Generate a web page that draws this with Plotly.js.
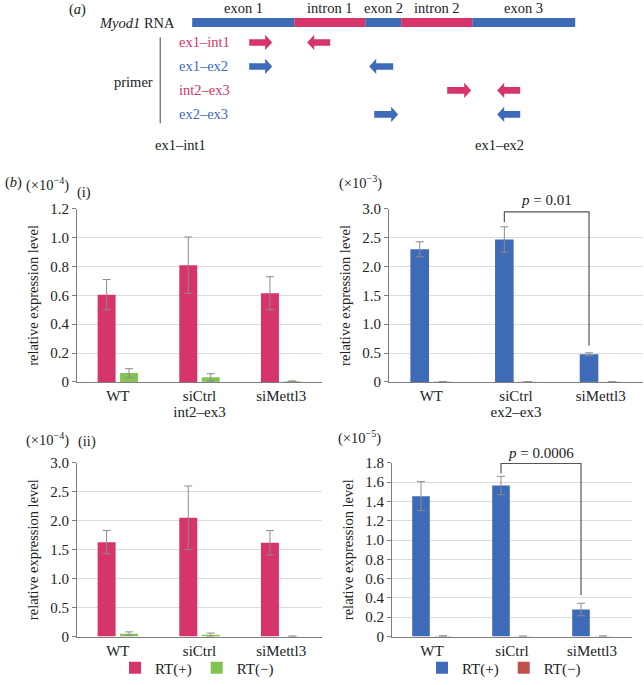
<!DOCTYPE html>
<html><head><meta charset="utf-8">
<script src="https://cdn.plot.ly/plotly-3.0.1.min.js"></script>
<style>html,body{margin:0;padding:0;background:#fff}</style>
</head><body><div id="chart" style="width:644px;height:685px"></div>
<script>
// ---------- DATA ----------
const categories = ['WT', 'siCtrl', 'siMettl3'];

// (b)(i) int2–ex3, ×10^-4
const int2ex3_rtPlus = [0.605, 0.81, 0.615];
const int2ex3_rtPlusErr = [0.105, 0.195, 0.115];
const int2ex3_rtMinus = [0.062, 0.032, 0.004];
const int2ex3_rtMinusErr = [0.03, 0.025, 0.003];

// (b)(i) ex2–ex3, ×10^-3
const ex2ex3_rtPlus = [2.30, 2.47, 0.48];
const ex2ex3_rtPlusErr = [0.13, 0.22, 0.025];
const ex2ex3_rtMinus = [0.004, 0.003, 0.002];
const ex2ex3_rtMinusErr = [0, 0, 0];

// (b)(ii) left, ×10^-4
const ii_left_rtPlus = [1.63, 2.05, 1.62];
const ii_left_rtPlusErr = [0.2, 0.55, 0.21];
const ii_left_rtMinus = [0.05, 0.03, 0.005];
const ii_left_rtMinusErr = [0.03, 0.03, 0.004];

// (b)(ii) right, ×10^-5
const ii_right_rtPlus = [1.455, 1.565, 0.28];
const ii_right_rtPlusErr = [0.15, 0.095, 0.065];
const ii_right_rtMinus = [0.005, 0.003, 0.004];
const ii_right_rtMinusErr = [0.003, 0.002, 0.002];

// y ticks
const ticks12 = [0, 0.2, 0.4, 0.6, 0.8, 1.0, 1.2];
const ticks12Text = ['0', '0.2', '0.4', '0.6', '0.8', '1.0', '1.2'];
const ticks30 = [0, 0.5, 1.0, 1.5, 2.0, 2.5, 3.0];
const ticks30Text = ['0', '0.5', '1.0', '1.5', '2.0', '2.5', '3.0'];
const ticks18 = [0, 0.2, 0.4, 0.6, 0.8, 1.0, 1.2, 1.4, 1.6, 1.8];
const ticks18Text = ['0', '0.2', '0.4', '0.6', '0.8', '1.0', '1.2', '1.4', '1.6', '1.8'];

// significance brackets: [fromCat, toCat, leftBottom, rightBottom, top, label]
const bracketTop = [1, 2, 2.77, 0.63, 2.95, '<i>p</i> = 0.01'];
const bracketBottom = [1, 2, 1.69, 0.43, 1.793, '<i>p</i> = 0.0006'];

// (a) schematic: Myod1 RNA segments (schematic units)
const segNames = ['exon 1', 'intron 1', 'exon 2', 'intron 2', 'exon 3'];
const segStart = [0, 102, 173, 209, 280];
const segEnd = [102, 173, 209, 280, 383];
const segType = ['exon', 'intron', 'exon', 'intron', 'exon'];
// primers
const primerNames = ['ex1–int1', 'ex1–ex2', 'int2–ex3', 'ex2–ex3'];
const primerType = ['intron', 'exon', 'intron', 'exon'];
const primerFwd = [[57, 80], [57, 80], [255, 279], [182, 206]];
const primerRev = [[115, 138], [177, 201], [305, 328], [305, 328]];

// ---------- STYLE ----------
const RED = '#D6346B', GREEN = '#84C452', BLUE = '#3E6BB8', RED2 = '#C0504D';
const SEGCOL = {exon: '#3E6BB8', intron: '#D6346B'};
const FONT = '"Liberation Serif", "DejaVu Serif", serif';
const BARGAP = 0.45;

function errbar(arr) {
  return {type: 'data', array: arr, visible: true, color: '#8C8C8C', thickness: 1, width: 4};
}
function barTrace(y, err, color, name, xa, ya, showlegend, legend) {
  return {
    type: 'bar', x: categories, y: y, name: name, xaxis: xa, yaxis: ya,
    marker: {color: color}, error_y: errbar(err), showlegend: showlegend,
    legend: legend, hoverinfo: 'skip'
  };
}

const traces = [
  barTrace(int2ex3_rtPlus, int2ex3_rtPlusErr, RED, 'RT(+)', 'x', 'y', false, 'legend'),
  barTrace(int2ex3_rtMinus, int2ex3_rtMinusErr, GREEN, 'RT(−)', 'x', 'y', false, 'legend'),
  barTrace(ex2ex3_rtPlus, ex2ex3_rtPlusErr, BLUE, 'RT(+)', 'x2', 'y2', false, 'legend2'),
  barTrace(ex2ex3_rtMinus, ex2ex3_rtMinusErr, RED2, 'RT(−)', 'x2', 'y2', false, 'legend2'),
  barTrace(ii_left_rtPlus, ii_left_rtPlusErr, RED, 'RT(+)', 'x3', 'y3', true, 'legend'),
  barTrace(ii_left_rtMinus, ii_left_rtMinusErr, GREEN, 'RT(−)', 'x3', 'y3', true, 'legend'),
  barTrace(ii_right_rtPlus, ii_right_rtPlusErr, BLUE, 'RT(+)', 'x4', 'y4', true, 'legend2'),
  barTrace(ii_right_rtMinus, ii_right_rtMinusErr, RED2, 'RT(−)', 'x4', 'y4', true, 'legend2'),
];

// schematic RNA bar as horizontal bars on hidden axes
const RNA_ROW = 0.17;
traces.push({
  type: 'bar', orientation: 'h', xaxis: 'x5', yaxis: 'y5',
  base: segStart, x: segEnd.map((e, i) => e - segStart[i]),
  y: segStart.map(() => RNA_ROW), width: 0.37,
  marker: {color: segType.map(t => SEGCOL[t]), line: {width: 0}},
  showlegend: false, hoverinfo: 'skip'
});

// ---------- LAYOUT ----------
const shapes = [];
const annotations = [];

// arrows
const SH = 0.137, HH = 0.32, HL = 7;
function arrowPath(a, b, r, dir) {
  if (dir > 0) {
    return `M${a},${r - SH} L${b - HL},${r - SH} L${b - HL},${r - HH} L${b},${r} L${b - HL},${r + HH} L${b - HL},${r + SH} L${a},${r + SH} Z`;
  }
  return `M${b},${r - SH} L${a + HL},${r - SH} L${a + HL},${r - HH} L${a},${r} L${a + HL},${r + HH} L${a + HL},${r + SH} L${b},${r + SH} Z`;
}
primerNames.forEach((n, i) => {
  const row = i + 1;
  const col = SEGCOL[primerType[i]];
  shapes.push({type: 'path', xref: 'x5', yref: 'y5', path: arrowPath(primerFwd[i][0], primerFwd[i][1], row, 1), fillcolor: col, line: {width: 0}});
  shapes.push({type: 'path', xref: 'x5', yref: 'y5', path: arrowPath(primerRev[i][0], primerRev[i][1], row, -1), fillcolor: col, line: {width: 0}});
  annotations.push({xref: 'x5', yref: 'y5', x: -15.6, y: row, text: n, showarrow: false, xanchor: 'left', yanchor: 'middle', font: {family: FONT, size: 14.5, color: col}});
});
segNames.forEach((n, i) => {
  annotations.push({xref: 'x5', yref: 'y5', x: (segStart[i] + segEnd[i]) / 2, y: -0.43, text: n, showarrow: false, xanchor: 'center', yanchor: 'middle', font: {family: FONT, size: 14.5, color: '#222'}});
});
annotations.push({xref: 'x5', yref: 'y5', x: -15.6, y: RNA_ROW, text: '<i>Myod1</i> RNA', showarrow: false, xanchor: 'right', yanchor: 'middle', font: {family: FONT, size: 14.5, color: '#222'}});
annotations.push({xref: 'x5', yref: 'y5', x: -37, y: 2.65, text: 'primer', showarrow: false, xanchor: 'right', yanchor: 'middle', font: {family: FONT, size: 14.5, color: '#222'}});
annotations.push({xref: 'x5', yref: 'y5', x: -115, y: -0.36, text: '(<i>a</i>)', showarrow: false, xanchor: 'center', yanchor: 'middle', font: {family: FONT, size: 14.5, color: '#222'}});
annotations.push({xref: 'x5', yref: 'y5', x: -12, y: 5.28, text: 'ex1–int1', showarrow: false, xanchor: 'center', yanchor: 'middle', font: {family: FONT, size: 14.5, color: '#222'}});
annotations.push({xref: 'x5', yref: 'y5', x: 307, y: 5.28, text: 'ex1–ex2', showarrow: false, xanchor: 'center', yanchor: 'middle', font: {family: FONT, size: 14.5, color: '#222'}});
shapes.push({type: 'line', xref: 'x5', yref: 'y5', x0: -32, x1: -32, y0: 0.79, y1: 4.37, line: {color: '#444', width: 1}});

// panel labels
function paperText(x, y, text, anchor) {
  annotations.push({xref: 'paper', yref: 'paper', x: x, y: y, text: text, showarrow: false, xanchor: anchor || 'center', yanchor: 'middle', font: {family: FONT, size: 14.5, color: '#222'}});
}
paperText(3 / 644, 1 - 185 / 685, '(<i>b</i>)', 'left');
paperText(47.5 / 644, 1 - 187 / 685, '(×10<sup>−4</sup>)');
paperText(84 / 644, 1 - 195 / 685, '(i)');
paperText(360.5 / 644, 1 - 185 / 685, '(×10<sup>−3</sup>)');
paperText(47.5 / 644, 1 - 445 / 685, '(×10<sup>−4</sup>)');
paperText(87 / 644, 1 - 447 / 685, '(ii)');
paperText(360 / 644, 1 - 443 / 685, '(×10<sup>−5</sup>)');

// brackets (positioned on the RT(+) bar of each category)
const slotOffset = (1 - BARGAP) / 4;
function bracket(b, xa, ya, textOffset) {
  const x0 = b[0] - slotOffset, x1 = b[1] - slotOffset;
  shapes.push({type: 'path', xref: xa, yref: ya,
    path: `M${x0},${b[2]} L${x0},${b[4]} L${x1},${b[4]} L${x1},${b[3]}`,
    line: {color: '#555', width: 1.2}});
  annotations.push({xref: xa, yref: ya, x: (x0 + x1) / 2, y: b[4], yshift: textOffset, text: b[5], showarrow: false, xanchor: 'center', yanchor: 'middle', font: {family: FONT, size: 15, color: '#222'}});
}
bracket(bracketTop, 'x2', 'y2', 12);
bracket(bracketBottom, 'x4', 'y4', 11);

function xax(domain, anchor, title) {
  return {
    domain: domain, anchor: anchor, type: 'category', range: [-0.5, 2.5],
    showline: true, linecolor: '#7F7F7F', linewidth: 1, ticks: '', showgrid: false,
    tickfont: {family: FONT, size: 15, color: '#222'},
    title: title ? {text: title, font: {family: FONT, size: 15, color: '#222'}, standoff: 2} : {text: ''},
    fixedrange: true
  };
}
function yax(domain, anchor, range, tv, tt) {
  return {
    domain: domain, anchor: anchor, range: range, tickvals: tv, ticktext: tt,
    showline: true, linecolor: '#7F7F7F', linewidth: 1, ticks: 'outside', ticklen: 4, tickcolor: '#7F7F7F',
    showgrid: true, gridcolor: '#DCDCDC', gridwidth: 1, zeroline: false,
    tickfont: {family: FONT, size: 15, color: '#222'},
    title: {text: 'relative expression level', font: {family: FONT, size: 14.5, color: '#222'}, standoff: 8},
    fixedrange: true
  };
}

const xL = [77 / 644, 322 / 644];
const xR1 = [389 / 644, 643 / 644];
const xR2 = [392 / 644, 632 / 644];
const yTop = [1 - 387 / 685, 1 - 211.7 / 685];
const yBot = [1 - 645 / 685, 1 - 469 / 685];

const layout = {
  width: 644, height: 685,
  margin: {l: 0, r: 0, t: 0, b: 0},
  paper_bgcolor: '#fff', plot_bgcolor: '#fff',
  barmode: 'group', bargap: BARGAP, bargroupgap: 0.2,
  font: {family: FONT, size: 15, color: '#222'},
  xaxis: xax(xL, 'y', 'int2–ex3'),
  yaxis: yax(yTop, 'x', [0, 1.2], ticks12, ticks12Text),
  xaxis2: xax(xR1, 'y2', 'ex2–ex3'),
  yaxis2: yax(yTop, 'x2', [0, 3.0], ticks30, ticks30Text),
  xaxis3: xax(xL, 'y3', ''),
  yaxis3: yax(yBot, 'x3', [0, 3.0], ticks30, ticks30Text),
  xaxis4: xax(xR2, 'y4', ''),
  yaxis4: yax(yBot, 'x4', [0, 1.8], ticks18, ticks18Text),
  xaxis5: {domain: [0, 1], anchor: 'y5', range: [-192.2, 451.8], visible: false, fixedrange: true},
  yaxis5: {domain: [1 - 160 / 685, 1], anchor: 'x5', range: [5.8148, -0.7695], visible: false, fixedrange: true},
  legend: {orientation: 'h', x: 197 / 644, xanchor: 'center', y: 1 - 677 / 685, yanchor: 'middle',
    font: {family: FONT, size: 15, color: '#222'}, bgcolor: 'rgba(0,0,0,0)', itemwidth: 30, traceorder: 'normal'},
  legend2: {orientation: 'h', x: 504 / 644, xanchor: 'center', y: 1 - 677 / 685, yanchor: 'middle',
    font: {family: FONT, size: 15, color: '#222'}, bgcolor: 'rgba(0,0,0,0)', itemwidth: 30, traceorder: 'normal'},
  shapes: shapes,
  annotations: annotations
};

Plotly.newPlot('chart', traces, layout, {displayModeBar: false, staticPlot: true});
</script>
</body></html>
